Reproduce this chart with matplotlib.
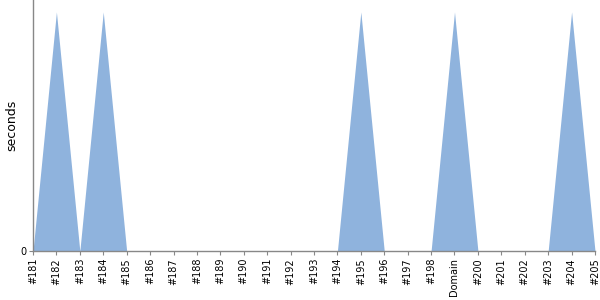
import matplotlib
matplotlib.use("Agg")
import matplotlib.pyplot as plt

labels = ["#181", "#182", "#183", "#184", "#185", "#186", "#187", "#188", "#189",
          "#190", "#191", "#192", "#193", "#194", "#195", "#196", "#197", "#198",
          "Domain", "#200", "#201", "#202", "#203", "#204", "#205"]
seconds = [0, 1, 0, 1, 0, 0, 0, 0, 0, 0, 0, 0, 0, 0, 1, 0, 0, 0, 1, 0, 0, 0, 0, 1, 0]

fig = plt.figure(figsize=(6, 3), dpi=100)
ax = fig.add_axes([33 / 600, 49 / 300, 562 / 600, 251 / 300])

x = list(range(len(labels)))
ax.fill_between(x, seconds, 0, color="#8fb3dd", linewidth=0)

ax.set_xlim(0, len(labels) - 1)
ax.set_ylim(0, 1.05)
ax.set_xticks(x)
ax.set_xticklabels(labels, rotation=90, fontsize=7)
ax.set_yticks([0])
ax.set_yticklabels(["0"], fontsize=7)
ax.set_ylabel("seconds", fontsize=9, labelpad=1)
ax.tick_params(axis="both", length=3, color="#888888", pad=2)
for side in ("top", "right"):
    ax.spines[side].set_visible(False)
for side in ("left", "bottom"):
    ax.spines[side].set_color("#888888")
    ax.spines[side].set_linewidth(1)

fig.savefig("out.png", dpi=100)
